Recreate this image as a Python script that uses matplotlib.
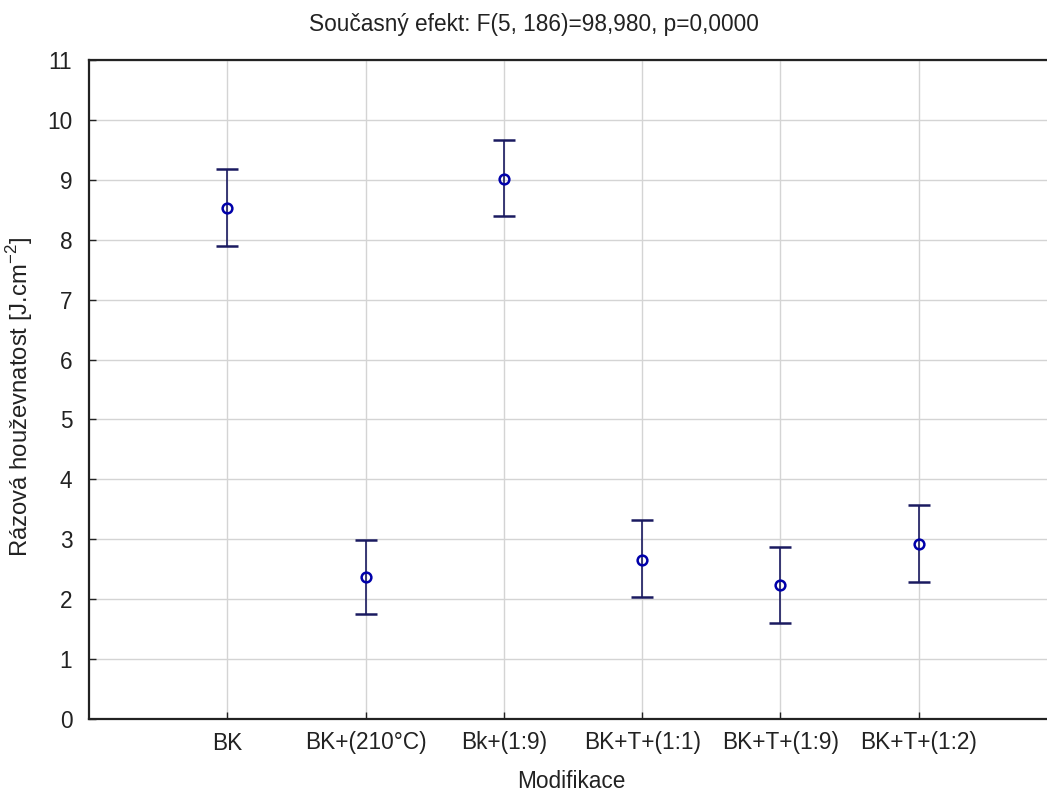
import matplotlib
matplotlib.use("Agg")
import matplotlib.pyplot as plt
import numpy as np

categories = ["BK", "BK+(210°C)", "Bk+(1:9)", "BK+T+(1:1)", "BK+T+(1:9)", "BK+T+(1:2)"]
means = [8.53, 2.37, 9.02, 2.66, 2.24, 2.92]
upper = [9.18, 2.99, 9.67, 3.32, 2.87, 3.57]
lower = [7.90, 1.75, 8.40, 2.03, 1.60, 2.29]
yticks = list(range(0, 12))

plt.rcParams['font.family'] = ['Liberation Sans', 'DejaVu Sans']

fig = plt.figure(figsize=(10.47, 7.94), dpi=100)
ax = fig.add_axes([89/1047, 1 - 719/794, 968/1047, (719-60)/794])

x = np.arange(len(categories))
m = np.array(means)
yerr = np.vstack([m - np.array(lower), np.array(upper) - m])
ax.errorbar(x, m, yerr=yerr, fmt='o', mfc='none', mec='#0000aa', mew=1.8, ms=7,
            ecolor='#1a1a60', elinewidth=1.2, capsize=8, capthick=1.2, zorder=3)

ax.set_xlim(-1, 6)
ax.set_ylim(0, 11)
ax.set_yticks(yticks)
ax.set_xticks(x)
ax.set_xticklabels(categories)
ax.grid(True, color='#d4d4d4', linewidth=1.0, zorder=0)
ax.set_axisbelow(True)
ax.tick_params(axis='both', direction='in', length=5, width=1, labelsize=16.3, colors='#222222')
ax.tick_params(axis='x', pad=9)
ax.tick_params(axis='y', pad=12)
for s in ['left', 'bottom', 'top']:
    ax.spines[s].set_linewidth(1.6)
    ax.spines[s].set_color('#222222')
ax.spines['right'].set_visible(False)

ax.set_xlabel("Modifikace", fontsize=16.3, color='#222222', va='center')
ax.xaxis.set_label_coords((571-89)/968, (719-782)/659)
ax.set_ylabel("Rázová houževnatost [J.cm$^{\\mathregular{-2}}$]", fontsize=17.2, color='#222222', va='center')
ax.yaxis.set_label_coords((20-89)/968, (719-397)/659)
fig.text(534/1047, 1 - 24/794, "Současný efekt: F(5, 186)=98,980, p=0,0000", ha='center', va='center',
         fontsize=16.3, color='#222222')

fig.savefig("out.png", dpi=100)
